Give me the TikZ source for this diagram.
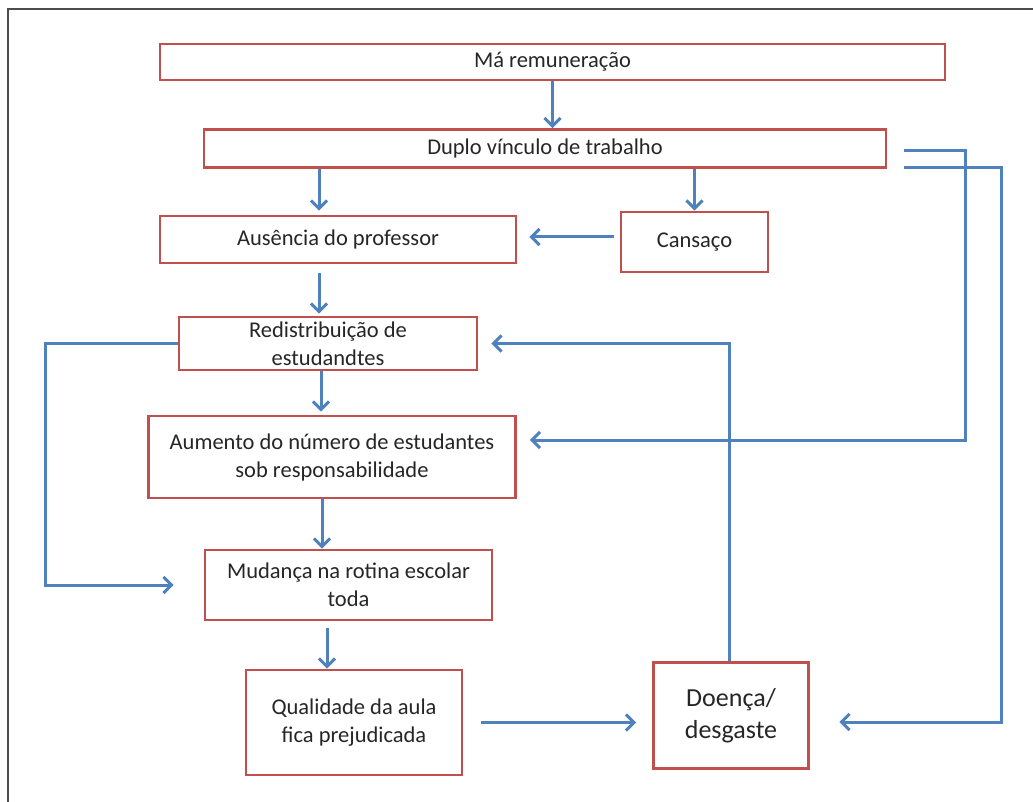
\documentclass[tikz,border=0pt]{standalone}
\usepackage{fontspec}
\setmainfont{Carlito}
\usetikzlibrary{arrows.meta}
\definecolor{boxred}{RGB}{192,80,77}
\definecolor{arrblue}{RGB}{79,129,189}
\definecolor{txtgray}{RGB}{38,38,38}

\begin{document}
\begin{tikzpicture}[x=1pt,y=-1pt,
  box/.style={draw=boxred,line width=2.8pt,fill=white,align=center,text=txtgray,inner sep=0pt,font=\fontsize{22.5}{28}\selectfont},
  arr/.style={draw=arrblue,line width=3pt,-{Straight Barb[length=8pt,width=16pt]}}]
\useasboundingbox (0,0) rectangle (1033,802);
\draw[line width=1.2pt,black!70] (8,802) -- (8,9) -- (1033,9);
\node[box,minimum width=785pt,minimum height=36pt] (ma) at (552.5,62) {Má remuneração};
\node[box,minimum width=682pt,minimum height=38pt] (duplo) at (545,148.5) {Duplo vínculo de trabalho};
\node[box,minimum width=356pt,minimum height=47pt] (ausencia) at (338,239.5) {Ausência do professor};
\node[box,minimum width=147pt,minimum height=60pt] (cansaco) at (694.5,242) {Cansaço};
\node[box,minimum width=298pt,minimum height=53pt] (redist) at (328,343.5) {Redistribuição de\\estudandtes};
\node[box,minimum width=367pt,minimum height=82pt] (aumento) at (332,457) {Aumento do número de estudantes\\sob responsabilidade};
\node[box,minimum width=287pt,minimum height=70pt] (mudanca) at (348.5,585) {Mudança na rotina escolar\\toda};
\node[box,minimum width=216pt,minimum height=105pt] (qualidade) at (354,722.5) {Qualidade da aula\\fica prejudicada};
\node[box,minimum width=155pt,minimum height=106pt,font=\fontsize{26}{32}\selectfont] (doenca) at (731,715.5) {Doença/\\desgaste};
\coordinate (loopL) at (45,0);
\coordinate (loopA) at (965,0);
\coordinate (loopB) at (1001,0);
% vertical flow
\draw[arr] (ma.south) -- (ma.south |- duplo.north);
\draw[arr,shorten >=4pt] ([xshift=-19pt]ausencia.north |- duplo.south) -- ([xshift=-19pt]ausencia.north);
\draw[arr] (cansaco.north |- duplo.south) -- (cansaco.north);
\draw[arr,shorten <=6pt,shorten >=12pt] ([yshift=5pt]cansaco.west) -- ([yshift=5pt]cansaco.west -| ausencia.east);
\draw[arr,shorten <=9pt,shorten >=2pt] ([xshift=-19pt]ausencia.south) -- ([xshift=-19pt]ausencia.south |- redist.north);
\draw[arr,shorten >=3pt] ([xshift=-7pt]redist.south) -- ([xshift=-7pt]redist.south |- aumento.north);
\draw[arr] ([xshift=-10pt]aumento.south) -- ([xshift=-10pt]aumento.south |- mudanca.north);
\draw[arr,shorten <=7pt] ([xshift=-21.5pt]mudanca.south) -- ([xshift=-21.5pt]mudanca.south |- qualidade.north);
\draw[arr,shorten <=18pt,shorten >=16pt] (qualidade.east) -- (qualidade.east -| doenca.west);
% feedback loops
\draw[arr,shorten >=13pt] ([xshift=-2pt]doenca.north) -- ([xshift=-2pt]doenca.north |- redist.east) -- (redist.east);
\draw[arr,shorten >=30pt] (redist.west) -- (redist.west -| loopL) |- (mudanca.west);
\draw[arr,shorten <=17pt,shorten >=13pt] ([yshift=-2.5pt]duplo.east) -- ([yshift=-2.5pt]duplo.east -| loopA) |- ([yshift=17pt]aumento.east);
\draw[arr,shorten <=17pt,shorten >=29.5pt] ([yshift=-19.5pt]duplo.east) -- ([yshift=-19.5pt]duplo.east -| loopB) |- ([yshift=-6.5pt]doenca.east);
\end{tikzpicture}
\end{document}
